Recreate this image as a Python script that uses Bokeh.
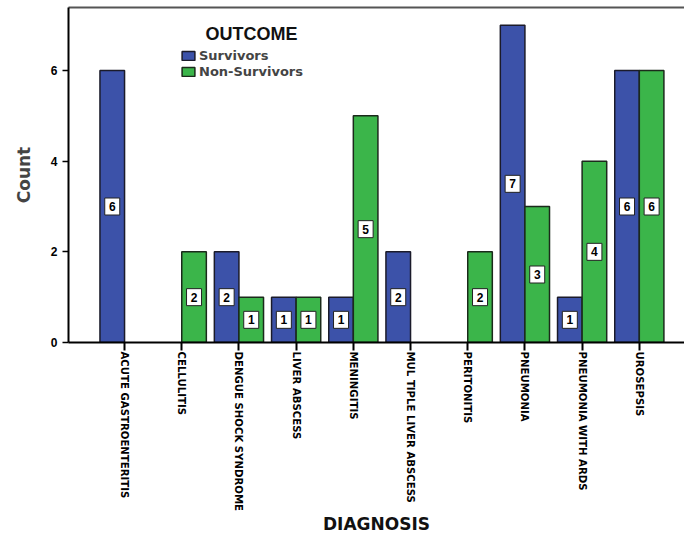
import math
from bokeh.plotting import figure
from bokeh.models import (ColumnDataSource, Range1d, FixedTicker, LinearAxis,
                          Legend, LegendItem, Label)
from bokeh.core.properties import value
from bokeh.embed import file_html
from bokeh.resources import INLINE

diagnoses = ["ACUTE GASTROENTERITIS", "CELLULITIS", "DENGUE SHOCK SYNDROME",
             "LIVER ABSCESS", "MENINGITIS", "MULTIPLE LIVER ABSCESS",
             "PERITONITIS", "PNEUMONIA", "PNEUMONIA WITH ARDS", "UROSEPSIS"]
tick_labels = ["ACUTE GASTROENTERITIS", "CELLULITIS", "DENGUE SHOCK SYNDROME",
               "LIVER ABSCESS", "MENINGITIS", "MUL TIPLE LIVER ABSCESS",
               "PERITONITIS", "PNEUMONIA", "PNEUMONIA WITH ARDS", "UROSEPSIS"]
survivors = [6, 0, 2, 1, 1, 2, 0, 7, 1, 6]
non_survivors = [0, 2, 1, 1, 5, 0, 2, 3, 4, 6]
y_ticks = [0, 2, 4, 6]

BLUE = "#3C52A9"
GREEN = "#3BB54A"
OFF = 0.215
BW = 0.43

def series(vals, off):
    xs, tops, mids, labs = [], [], [], []
    for i, v in enumerate(vals):
        if v > 0:
            xs.append(i + off)
            tops.append(v)
            mids.append(v / 2)
            labs.append(str(v))
    return ColumnDataSource(dict(x=xs, top=tops, mid=mids, lab=labs))

src_s = series(survivors, -OFF)
src_n = series(non_survivors, OFF)

p = figure(width=684, height=536, output_backend="svg", toolbar_location=None,
           x_range=Range1d(-0.98, 9.79), y_range=Range1d(0, 7.39),
           min_border_left=68, min_border_right=0, min_border_top=7,
           min_border_bottom=194)
p.background_fill_color = "white"
p.border_fill_color = "white"
p.outline_line_color = None
p.xgrid.visible = False
p.ygrid.visible = False

r_s = p.vbar(x="x", top="top", width=BW, source=src_s, fill_color=BLUE,
             line_color="#1b1b2a", line_width=1.5)
r_n = p.vbar(x="x", top="top", width=BW, source=src_n, fill_color=GREEN,
             line_color="#1b2a1b", line_width=1.5)

for src in (src_s, src_n):
    p.rect(x="x", y="mid", width=15, height=17, width_units="screen",
           height_units="screen", source=src, fill_color="white",
           line_color="#222222", line_width=1)
    p.text(x="x", y="mid", text="lab", source=src, text_align="center",
           text_baseline="middle", text_font=value("Liberation Sans"),
           text_font_style="bold", text_font_size="12px", text_color="black")

# axes
xa = p.xaxis[0]
xa.ticker = FixedTicker(ticks=list(range(len(diagnoses))))
xa.major_label_overrides = {i: t for i, t in enumerate(tick_labels)}
xa.major_label_orientation = -math.pi / 2
xa.major_label_text_font = "DejaVu Sans Condensed, Liberation Sans"
xa.major_label_text_font_style = "bold"
xa.major_label_text_font_size = "11.3px"
xa.major_label_text_color = "black"
xa.major_label_standoff = 1
xa.major_tick_out = 8
xa.major_tick_in = 0
xa.major_tick_line_width = 2
xa.minor_tick_line_color = None
xa.axis_line_width = 2
xa.axis_label = "DIAGNOSIS"
xa.axis_label_text_font = "DejaVu Sans"
xa.axis_label_text_font_style = "bold"
xa.axis_label_text_font_size = "17px"
xa.axis_label_text_color = "#111111"
xa.axis_label_standoff = 0

ya = p.yaxis[0]
ya.ticker = FixedTicker(ticks=y_ticks)
ya.major_label_text_font = "Liberation Sans"
ya.major_label_text_font_style = "bold"
ya.major_label_text_font_size = "12px"
ya.major_label_text_color = "black"
ya.major_tick_out = 6
ya.major_tick_in = 0
ya.major_tick_line_width = 1.5
ya.minor_tick_line_color = None
ya.axis_line_width = 2
ya.axis_label = "Count"
ya.axis_label_text_font = "DejaVu Sans"
ya.axis_label_text_font_style = "bold"
ya.axis_label_text_font_size = "17px"
ya.axis_label_standoff = 14

top = LinearAxis(ticker=FixedTicker(ticks=[]), major_tick_out=0,
                 major_tick_in=0, minor_tick_line_color=None,
                 major_label_standoff=0, major_label_text_font_size="0px",
                 axis_line_color="#555555", axis_line_width=2)
p.add_layout(top, "above")

legend = Legend(items=[LegendItem(label="Survivors", renderers=[r_s]),
                       LegendItem(label="Non-Survivors", renderers=[r_n])],
                location=(112, 263), orientation="vertical",
                border_line_color=None, background_fill_alpha=0,
                padding=0, margin=0, spacing=1, glyph_width=16,
                glyph_height=11, label_height=13, label_standoff=3,
                label_text_font="DejaVu Sans", label_text_font_style="bold",
                label_text_font_size="13px")
p.add_layout(legend)

p.add_layout(Label(x=183, y=309, x_units="screen", y_units="screen",
                   text="OUTCOME", text_align="center", text_baseline="middle",
                   text_font="Liberation Sans", text_font_style="bold",
                   text_font_size="18px", text_color="#111111"))

open("out.html", "w").write(file_html(p, INLINE))
